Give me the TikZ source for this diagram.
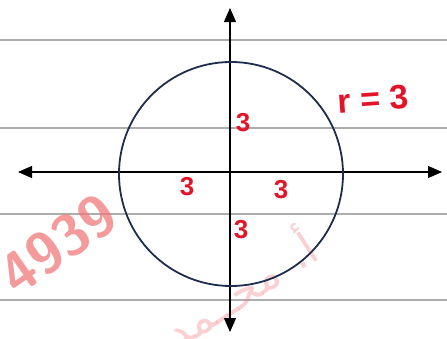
\documentclass[tikz,border=0pt]{standalone}
\usepackage{fontspec}
\newfontfamily\handfont{Liberation Sans}
\newfontfamily\arabicfont[Script=Arabic]{DejaVu Sans}
\TeXXeTstate=1
\definecolor{navy}{RGB}{30, 45, 77}
\definecolor{pen}{RGB}{228, 20, 40}
\definecolor{mark}{RGB}{240, 120, 120}
\usetikzlibrary{arrows.meta, positioning}

\begin{document}
\begin{tikzpicture}[x=1pt, y=-1pt,
    paperline/.style={draw=black!32, line width=1.6pt},
    axis/.style={{Triangle[length=14pt, width=12pt]}-{Triangle[length=14pt, width=12pt]}, line width=1.1pt},
    ring/.style={draw=navy, line width=1.8pt},
    lbl/.style={text=pen, font=\handfont\bfseries\fontsize{26}{26}\selectfont, inner sep=0pt},
    wmark/.style={text=mark, inner sep=0pt}
]
    \useasboundingbox (0,0) rectangle (447,338);
    % lined paper
    \foreach \yy in {40, 128, 214, 300}
        \draw[paperline] (0,\yy) -- (447,\yy);
    % watermark
    \node[wmark, opacity=0.75, rotate=35, font=\sffamily\bfseries\fontsize{58}{58}\selectfont] (wnum) at (58,244) {4939};
    \node[wmark, opacity=0.35, rotate=33, font=\arabicfont\fontsize{44}{44}\selectfont] (wname) at (238,286) {\beginR أ. محــمد\endR};
    % axes
    \coordinate (west) at (18,172);
    \coordinate (east) at (442,172);
    \coordinate (north) at (230,8);
    \coordinate (south) at (230,332);
    \draw[axis] (west) -- (east);
    \draw[axis] (south) -- (north);
    % circle
    \coordinate (o) at (231,174);
    \draw[ring] (o) circle (112);
    % labels
    \node[lbl] (up) at (243,123) {3};
    \node[lbl] (left) at (187,187) {3};
    \node[lbl] (right) at (281,190) {3};
    \node[lbl] (down) at (241,230) {3};
    \node[lbl, rotate=4, font=\handfont\bfseries\fontsize{34}{34}\selectfont] (rad) at (373,99) {r = 3};
\end{tikzpicture}
\end{document}
